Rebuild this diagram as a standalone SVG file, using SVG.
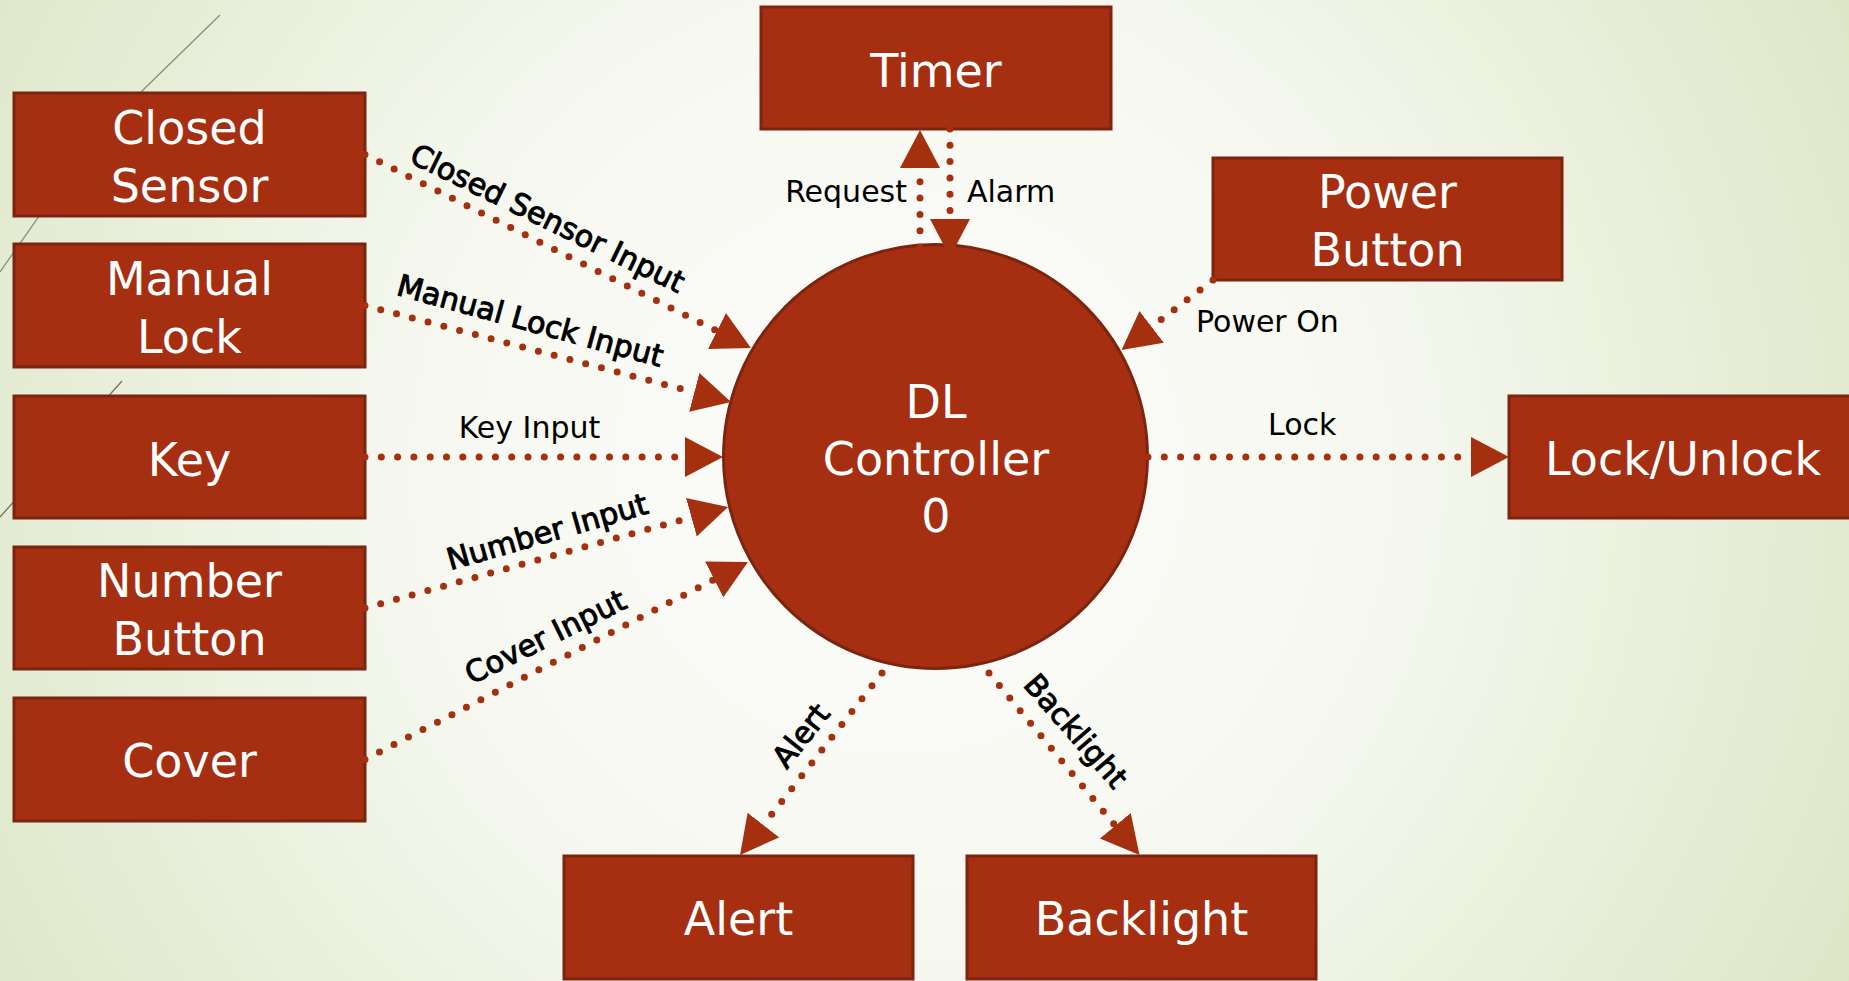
<svg xmlns="http://www.w3.org/2000/svg" width="1849" height="981" viewBox="0 0 1849 981">
<style>
.box{fill:#A52F10;stroke:#7C2410;stroke-width:3}
.nt{font-family:"DejaVu Sans",sans-serif;font-size:46px;fill:#ffffff;text-anchor:middle}
.lbl{font-family:"DejaVu Sans",sans-serif;font-size:30px;fill:#000000}
.rl{font-family:"DejaVu Sans",sans-serif;font-size:30px;fill:#000000;stroke:#000000;stroke-width:1;text-anchor:middle}
.dot{fill:none;stroke:#A5300F;stroke-width:7;stroke-linecap:round;stroke-dasharray:0 16.3}
.deco{fill:none;stroke:#8c8c7c;stroke-width:1.3}
</style>
<defs>
<radialGradient id="bg" gradientUnits="userSpaceOnUse" cx="900" cy="470" r="1080">
<stop offset="0" stop-color="#fdfdfb"/>
<stop offset="0.45" stop-color="#f6f8f0"/>
<stop offset="1" stop-color="#dce6c6"/>
</radialGradient>
<marker id="ah" markerUnits="userSpaceOnUse" markerWidth="39" markerHeight="42" viewBox="0 -21 39 42" refX="0" refY="0" orient="auto">
<path d="M0,-20 L38,0 L0,20 z" fill="#A5300F"/>
</marker>
</defs>
<rect x="0" y="0" width="1849" height="981" fill="url(#bg)"/>
<path class="deco" d="M220,15 L143,90 L42,212 L0,272"/>
<path class="deco" d="M122,381 L0,517" style="stroke:#77735f"/>

<g id="closed-sensor"><rect class="box" x="14" y="93" width="351" height="123"/><text class="nt" x="189.5" y="144">Closed</text><text class="nt" x="189.5" y="202">Sensor</text></g>
<g id="manual-lock"><rect class="box" x="14" y="244" width="351" height="123"/><text class="nt" x="189.5" y="295">Manual</text><text class="nt" x="189.5" y="353">Lock</text></g>
<g id="key"><rect class="box" x="14" y="396" width="351" height="122"/><text class="nt" x="189.5" y="476">Key</text></g>
<g id="number-button"><rect class="box" x="14" y="547" width="351" height="122"/><text class="nt" x="189.5" y="597">Number</text><text class="nt" x="189.5" y="655">Button</text></g>
<g id="cover"><rect class="box" x="14" y="698" width="351" height="123"/><text class="nt" x="189.5" y="777">Cover</text></g>
<g id="timer"><rect class="box" x="761" y="7" width="350" height="122"/><text class="nt" x="936" y="87">Timer</text></g>
<g id="power-button"><rect class="box" x="1213" y="158" width="349" height="122"/><text class="nt" x="1387.5" y="208">Power</text><text class="nt" x="1387.5" y="266">Button</text></g>
<g id="lock-unlock"><rect class="box" x="1509" y="396" width="352" height="122"/><text class="nt" x="1683" y="475">Lock/Unlock</text></g>
<g id="alert"><rect class="box" x="564" y="856" width="349" height="123"/><text class="nt" x="738.5" y="935">Alert</text></g>
<g id="backlight"><rect class="box" x="967" y="856" width="349" height="123"/><text class="nt" x="1141.5" y="935">Backlight</text></g>
<g id="dl-controller"><circle cx="935.5" cy="456.5" r="212" fill="#A52F10" stroke="#7C2410" stroke-width="3"/><text class="nt" x="936" y="418">DL</text><text class="nt" x="936" y="475">Controller</text><text class="nt" x="936" y="532">0</text></g>

<g id="connectors">
<line class="dot" x1="365" y1="154.5" x2="717" y2="331" marker-end="url(#ah)"/>
<line class="dot" x1="365" y1="305.5" x2="694.3" y2="392.3" marker-end="url(#ah)"/>
<line class="dot" x1="365" y1="457" x2="685" y2="457" marker-end="url(#ah)"/>
<line class="dot" x1="365" y1="608" x2="691.4" y2="517.2" marker-end="url(#ah)"/>
<line class="dot" x1="365" y1="759.5" x2="714.2" y2="579.4" marker-end="url(#ah)"/>
<line class="dot" x1="920" y1="247" x2="920" y2="168" marker-end="url(#ah)"/>
<line class="dot" x1="950" y1="129" x2="950" y2="219" marker-end="url(#ah)"/>
<line class="dot" x1="1213" y1="280" x2="1151.7" y2="326.9" marker-end="url(#ah)"/>
<line class="dot" x1="1148" y1="457" x2="1471" y2="457" marker-end="url(#ah)"/>
<line class="dot" x1="882" y1="673" x2="763.4" y2="825" marker-end="url(#ah)"/>
<line class="dot" x1="989" y1="673" x2="1115.3" y2="825.7" marker-end="url(#ah)"/>

<text class="rl" transform="translate(543,227.5) rotate(26)">Closed Sensor Input</text>
<text class="rl" transform="translate(527.5,330.8) rotate(15.3)">Manual Lock Input</text>
<text class="lbl" x="529.5" y="438" text-anchor="middle">Key Input</text>
<text class="rl" transform="translate(550,541.7) rotate(-16)">Number Input</text>
<text class="rl" transform="translate(550,646) rotate(-26.3)">Cover Input</text>
<text class="lbl" x="907" y="202" text-anchor="end">Request</text>
<text class="lbl" x="967" y="202">Alarm</text>
<text class="lbl" x="1196" y="332">Power On</text>
<text class="lbl" x="1268" y="435">Lock</text>
<text class="rl" transform="translate(809,742) rotate(-51.5)">Alert</text>
<text class="rl" transform="translate(1068,737.7) rotate(49)">Backlight</text>
</g>
</svg>
